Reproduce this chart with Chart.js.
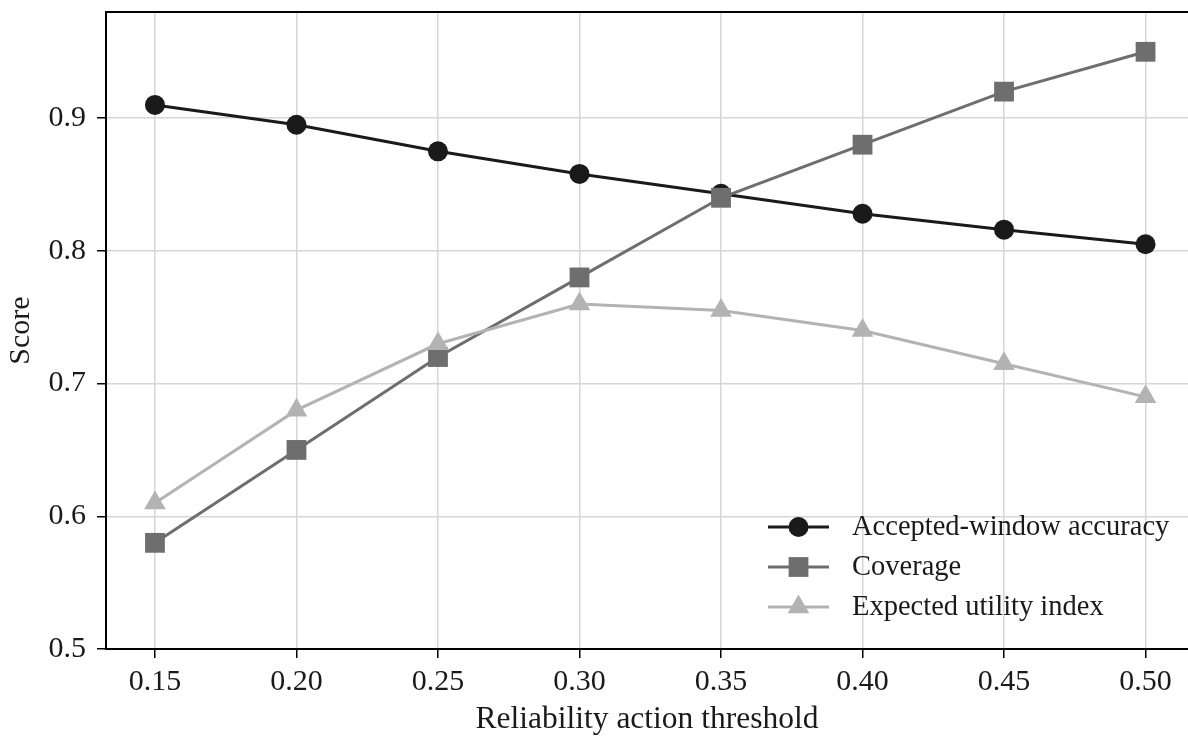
<!DOCTYPE html>
<html>
<head>
<meta charset="utf-8">
<script src="https://cdn.jsdelivr.net/npm/chart.js@4.4.1/dist/chart.umd.min.js"></script>
<style>
  html, body { margin: 0; padding: 0; background: #fff; overflow: hidden; }
  canvas { display: block; }
</style>
</head>
<body>
<canvas id="chart" width="1188" height="737"></canvas>
<script>
// valores
const thresholds = [0.15, 0.20, 0.25, 0.30, 0.35, 0.40, 0.45, 0.50];
const accuracy   = [0.910, 0.895, 0.875, 0.858, 0.843, 0.828, 0.816, 0.805];
const coverage   = [0.58, 0.65, 0.72, 0.78, 0.84, 0.88, 0.92, 0.95];
const utility    = [0.61, 0.68, 0.73, 0.76, 0.755, 0.74, 0.715, 0.69];
const yTicks     = [0.5, 0.6, 0.7, 0.8, 0.9];
const seriesNames = ["Accepted-window accuracy", "Coverage", "Expected utility index"];

const FONT = "'Liberation Serif', 'Times New Roman', serif";

function pts(ys) { return thresholds.map((x, i) => ({ x, y: ys[i] })); }

/* ------------------ plugin: borde superior + leyenda dentro del area ------------------ */
const extras = {
  id: "extras",
  afterDraw(chart) {
    const { ctx, chartArea } = chart;
    ctx.save();
    // spine superior
    ctx.strokeStyle = "#000";
    ctx.lineWidth = 2;
    ctx.beginPath();
    ctx.moveTo(chartArea.left - 1, chartArea.top);
    ctx.lineTo(chartArea.right, chartArea.top);
    ctx.stroke();

    // leyenda
    const x0 = 768, x1 = 829, tx = 852;
    let y = 527;
    chart.data.datasets.forEach(ds => {
      ctx.strokeStyle = ds.borderColor;
      ctx.lineWidth = ds.borderWidth;
      ctx.beginPath();
      ctx.moveTo(x0, y);
      ctx.lineTo(x1, y);
      ctx.stroke();
      ctx.fillStyle = ds.pointBackgroundColor;
      ctx.strokeStyle = ds.pointBackgroundColor;
      ctx.lineWidth = 0;
      Chart.helpers.drawPoint(ctx, { pointStyle: ds.pointStyle, radius: ds.pointRadius, borderWidth: 0 }, (x0 + x1) / 2, y);
      ctx.fillStyle = "#1a1a1a";
      ctx.font = "28.5px " + FONT;
      ctx.textBaseline = "middle";
      ctx.textAlign = "left";
      ctx.fillText(ds.label, tx, y + 1);
      y += 40;
    });
    ctx.restore();
  }
};

function noPad(s) { s.paddingTop = 0; s.paddingBottom = 0; s.paddingLeft = 0; s.paddingRight = 0; }

const ctx = document.getElementById("chart").getContext("2d");
new Chart(ctx, {
  type: "line",
  data: {
    datasets: [
      { label: seriesNames[0], data: pts(accuracy), borderColor: "#1a1a1a", backgroundColor: "#1a1a1a",
        pointBackgroundColor: "#1a1a1a", pointBorderWidth: 0, pointStyle: "circle", pointRadius: 10,
        borderWidth: 3, order: 3 },
      { label: seriesNames[1], data: pts(coverage), borderColor: "#6e6e6e", backgroundColor: "#6e6e6e",
        pointBackgroundColor: "#6e6e6e", pointBorderWidth: 0, pointStyle: "rect", pointRadius: 14,
        borderWidth: 3, order: 2 },
      { label: seriesNames[2], data: pts(utility), borderColor: "#b3b3b3", backgroundColor: "#b3b3b3",
        pointBackgroundColor: "#b3b3b3", pointBorderWidth: 0, pointStyle: "triangle", pointRadius: 12.5,
        borderWidth: 3, order: 1 }
    ]
  },
  options: {
    responsive: false,
    animation: false,
    layout: { autoPadding: false, padding: { top: 12, right: 0, left: 0, bottom: 0 } },
    plugins: { legend: { display: false }, tooltip: { enabled: false } },
    scales: {
      x: {
        type: "linear",
        min: 0.1327,
        max: 0.515,
        afterBuildTicks: s => { s.ticks = thresholds.map(v => ({ value: v })); },
        afterFit: s => { s.height = 88; noPad(s); },
        ticks: {
          color: "#1a1a1a", font: { family: FONT, size: 30 }, padding: 6,
          maxRotation: 0, autoSkip: false,
          callback: v => v.toFixed(2)
        },
        grid: { color: "#d6d6d6", lineWidth: 1.5, tickColor: "#000", tickLength: 9, tickWidth: 1.5 },
        border: { color: "#000", width: 2 },
        title: { display: true, text: "Reliability action threshold", color: "#1a1a1a",
                 font: { family: FONT, size: 31.5 }, padding: { top: 0, bottom: -2 } }
      },
      y: {
        min: 0.5,
        max: 0.98,
        afterBuildTicks: s => { s.ticks = yTicks.map(v => ({ value: v })); },
        afterFit: s => { s.width = 106; noPad(s); },
        ticks: {
          color: "#1a1a1a", font: { family: FONT, size: 30 }, padding: 11,
          callback: v => v.toFixed(1)
        },
        grid: { color: "#d6d6d6", lineWidth: 1.5, tickColor: "#000", tickLength: 9, tickWidth: 1.5 },
        border: { color: "#000", width: 2 },
        title: { display: true, text: "Score", color: "#1a1a1a",
                 font: { family: FONT, size: 30 }, padding: { top: 3, bottom: 0 } }
      }
    }
  },
  plugins: [extras]
});
</script>
</body>
</html>
